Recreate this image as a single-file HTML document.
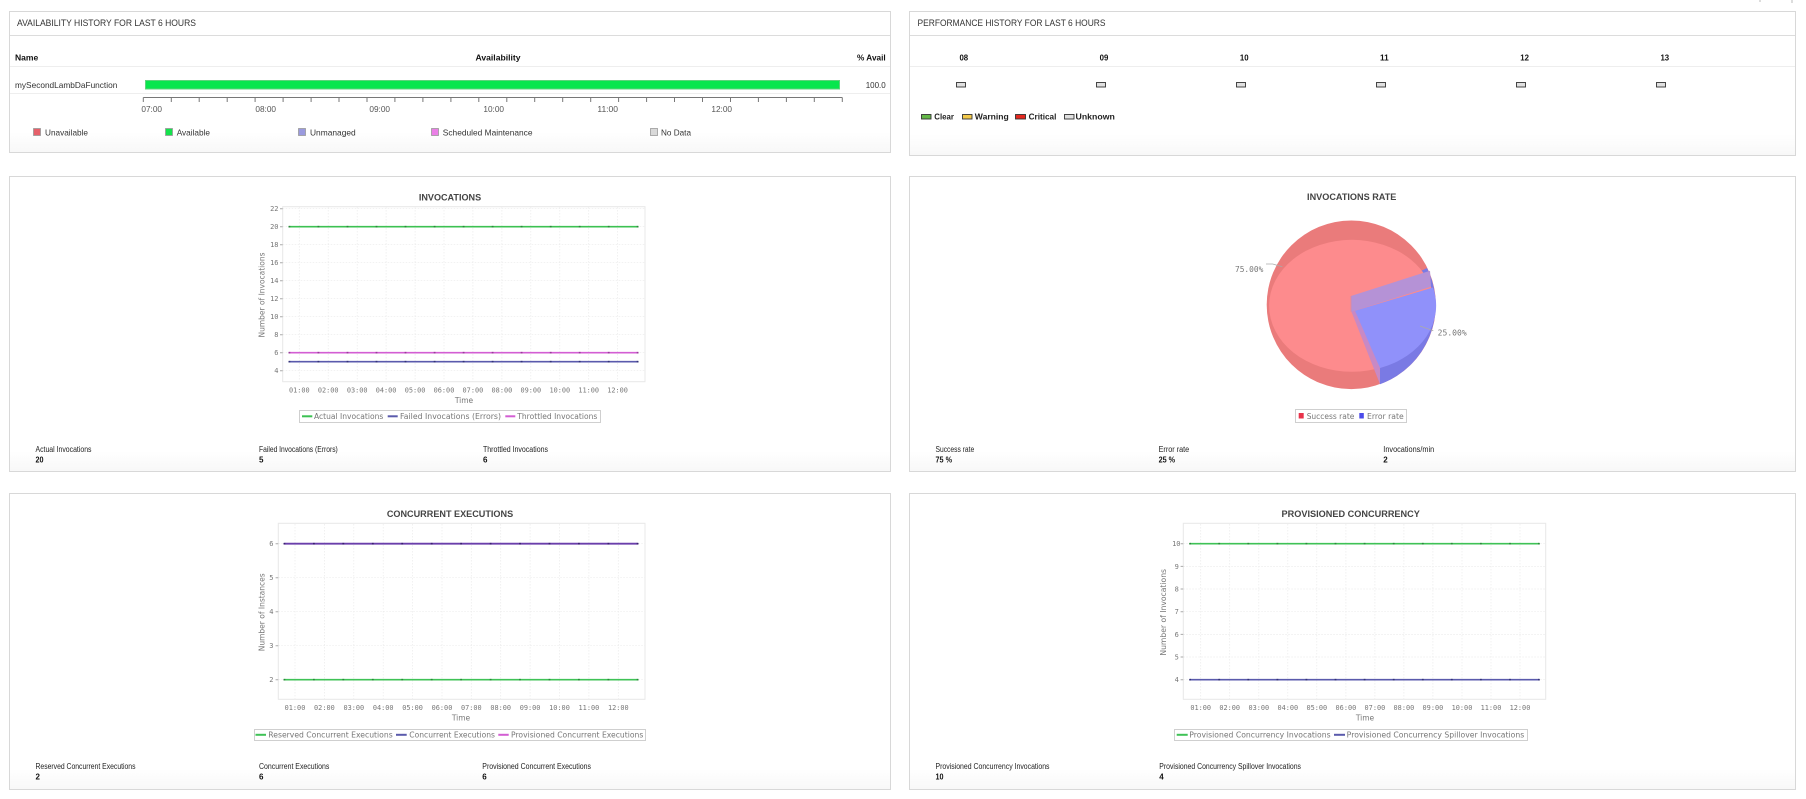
<!DOCTYPE html>
<html><head><meta charset="utf-8"><style>html,body{margin:0;padding:0;background:#fff;}svg{display:block;}</style></head>
<body>
<svg width="1806" height="799" viewBox="0 0 1806 799" xmlns="http://www.w3.org/2000/svg" font-family="'Liberation Sans', sans-serif">
<defs>
<linearGradient id="bg" x1="0" y1="0" x2="0" y2="1"><stop offset="0" stop-color="#fff"/><stop offset="1" stop-color="#f8f8f8"/></linearGradient>
</defs>
<rect width="1806" height="799" fill="#fff"/>
<path d="M1760 0v2M1792 0v3" stroke="#bbb"/>

<!-- Panels -->
<g fill="#fff" stroke="#d8d8d8" stroke-width="1">
<rect x="9.5" y="11.5" width="881" height="141"/>
<rect x="909.5" y="11.5" width="886" height="144"/>
<rect x="9.5" y="176.5" width="881" height="295"/>
<rect x="909.5" y="176.5" width="886" height="295"/>
<rect x="9.5" y="493.5" width="881" height="296"/>
<rect x="909.5" y="493.5" width="886" height="296"/>
</g>
<g fill="url(#bg)">
<rect x="10" y="132" width="880" height="20"/>
<rect x="910" y="134" width="885" height="21"/>
<rect x="10" y="451" width="880" height="20"/>
<rect x="910" y="451" width="885" height="20"/>
<rect x="10" y="769" width="880" height="20"/>
<rect x="910" y="769" width="885" height="20"/>
</g>

<!-- ===== Panel 1: Availability ===== -->
<text x="17" y="26" font-size="9.5" fill="#333" textLength="179" lengthAdjust="spacingAndGlyphs">AVAILABILITY HISTORY FOR LAST 6 HOURS</text>
<path d="M10 35.5H890" stroke="#dcdcdc"/>
<g font-size="8.5" font-weight="bold" fill="#111">
<text x="15" y="60.3" textLength="23.3" lengthAdjust="spacingAndGlyphs">Name</text>
<text x="498" y="60.3" text-anchor="middle" textLength="45" lengthAdjust="spacingAndGlyphs">Availability</text>
<text x="885.7" y="60.3" text-anchor="end" textLength="28.7" lengthAdjust="spacingAndGlyphs">% Avail</text>
</g>
<path d="M10 66.5H890M10 93.5H890" stroke="#eeeeee"/>
<text x="15" y="88" font-size="8.5" fill="#333" textLength="102.3" lengthAdjust="spacingAndGlyphs">mySecondLambDaFunction</text>
<rect x="145.5" y="80.5" width="694" height="8.5" fill="#07e64d" stroke="#5fd27c"/>
<text x="885.7" y="88" font-size="8.5" fill="#333" text-anchor="end" textLength="20" lengthAdjust="spacingAndGlyphs">100.0</text>
<path d="M143.3 97.5H842.3" stroke="#777"/>
<path d="M143.3 97.5v4.5M171.3 97.5v4.5M199.2 97.5v4.5M227.2 97.5v4.5M255.1 97.5v4.5M283.1 97.5v4.5M311.1 97.5v4.5M339 97.5v4.5M367 97.5v4.5M394.9 97.5v4.5M422.9 97.5v4.5M450.9 97.5v4.5M478.8 97.5v4.5M506.8 97.5v4.5M534.7 97.5v4.5M562.7 97.5v4.5M590.7 97.5v4.5M618.6 97.5v4.5M646.6 97.5v4.5M674.5 97.5v4.5M702.5 97.5v4.5M730.5 97.5v4.5M758.4 97.5v4.5M786.4 97.5v4.5M814.3 97.5v4.5M842.3 97.5v4.5" stroke="#777"/>
<g font-size="8" fill="#555" text-anchor="middle">
<text x="151.7" y="112" textLength="20.7" lengthAdjust="spacingAndGlyphs">07:00</text>
<text x="265.7" y="112" textLength="20.7" lengthAdjust="spacingAndGlyphs">08:00</text>
<text x="379.7" y="112" textLength="20.7" lengthAdjust="spacingAndGlyphs">09:00</text>
<text x="493.7" y="112" textLength="20.7" lengthAdjust="spacingAndGlyphs">10:00</text>
<text x="607.7" y="112" textLength="20.7" lengthAdjust="spacingAndGlyphs">11:00</text>
<text x="721.7" y="112" textLength="20.7" lengthAdjust="spacingAndGlyphs">12:00</text>
</g>
<g stroke="#999" stroke-width="0.8">
<rect x="33.5" y="128.5" width="7" height="7" fill="#e6606a"/>
<rect x="165.5" y="128.5" width="7" height="7" fill="#14e24c"/>
<rect x="298.5" y="128.5" width="7" height="7" fill="#9a9ade"/>
<rect x="431.5" y="128.5" width="7" height="7" fill="#ea7fe6"/>
<rect x="650.5" y="128.5" width="7" height="7" fill="#d9d9d9"/>
</g>
<g font-size="8.5" fill="#333">
<text x="45" y="135.7" textLength="43" lengthAdjust="spacingAndGlyphs">Unavailable</text>
<text x="176.7" y="135.7" textLength="33.3" lengthAdjust="spacingAndGlyphs">Available</text>
<text x="310" y="135.7" textLength="45.7" lengthAdjust="spacingAndGlyphs">Unmanaged</text>
<text x="442.8" y="135.7" textLength="89.7" lengthAdjust="spacingAndGlyphs">Scheduled Maintenance</text>
<text x="661" y="135.7" textLength="30" lengthAdjust="spacingAndGlyphs">No Data</text>
</g>

<!-- ===== Panel 2: Performance ===== -->
<text x="917.5" y="26" font-size="9.5" fill="#333" textLength="188" lengthAdjust="spacingAndGlyphs">PERFORMANCE HISTORY FOR LAST 6 HOURS</text>
<path d="M910 35.5H1795" stroke="#dcdcdc"/>
<g font-size="8.5" font-weight="bold" fill="#111" text-anchor="middle">
<text x="963.8" y="60.3" textLength="8.7" lengthAdjust="spacingAndGlyphs">08</text>
<text x="1104" y="60.3" textLength="8.7" lengthAdjust="spacingAndGlyphs">09</text>
<text x="1244.2" y="60.3" textLength="8.7" lengthAdjust="spacingAndGlyphs">10</text>
<text x="1384.4" y="60.3" textLength="8.7" lengthAdjust="spacingAndGlyphs">11</text>
<text x="1524.6" y="60.3" textLength="8.7" lengthAdjust="spacingAndGlyphs">12</text>
<text x="1664.8" y="60.3" textLength="8.7" lengthAdjust="spacingAndGlyphs">13</text>
</g>
<path d="M910 66.5H1795" stroke="#eeeeee"/>
<g fill="#e0e0e0" stroke="#333" stroke-width="0.9">
<rect x="956.5" y="82.5" width="9" height="4.5"/>
<rect x="1096.5" y="82.5" width="9" height="4.5"/>
<rect x="1236.5" y="82.5" width="9" height="4.5"/>
<rect x="1376.5" y="82.5" width="9" height="4.5"/>
<rect x="1516.5" y="82.5" width="9" height="4.5"/>
<rect x="1656.5" y="82.5" width="9" height="4.5"/>
</g>
<g stroke="#333" stroke-width="0.9">
<rect x="921.5" y="114.5" width="9.5" height="4.5" fill="#63b847"/>
<rect x="962.5" y="114.5" width="9.5" height="4.5" fill="#f3c94a"/>
<rect x="1015.5" y="114.5" width="10" height="4.5" fill="#e5281f"/>
<rect x="1064.5" y="114.5" width="9.5" height="4.5" fill="#e0e0e0"/>
</g>
<g font-size="8.5" font-weight="bold" fill="#222">
<text x="934.3" y="119.5" textLength="19.7" lengthAdjust="spacingAndGlyphs">Clear</text>
<text x="974.8" y="119.5" textLength="34" lengthAdjust="spacingAndGlyphs">Warning</text>
<text x="1028.6" y="119.5" textLength="27.8" lengthAdjust="spacingAndGlyphs">Critical</text>
<text x="1075.5" y="119.5" textLength="39.4" lengthAdjust="spacingAndGlyphs">Unknown</text>
</g>

<!-- ===== Panel 3: Invocations chart ===== -->
<text x="450" y="200.3" font-size="9" font-weight="bold" fill="#444" text-anchor="middle" textLength="62.3" lengthAdjust="spacingAndGlyphs">INVOCATIONS</text>
<rect x="282.7" y="206.7" width="362.3" height="175" fill="#fff" stroke="#e8e8e8"/>
<g stroke="#ebebeb" stroke-width="0.7" stroke-dasharray="1.5,1.5">
<path d="M282.7 208.7H645M282.7 226.7H645M282.7 244.7H645M282.7 262.7H645M282.7 280.7H645M282.7 298.7H645M282.7 316.7H645M282.7 334.7H645M282.7 352.7H645M282.7 370.7H645"/>
<path d="M299.3 207V381.7M328.2 207V381.7M357.2 207V381.7M386.1 207V381.7M415.1 207V381.7M444 207V381.7M472.9 207V381.7M501.9 207V381.7M530.8 207V381.7M559.8 207V381.7M588.7 207V381.7M617.6 207V381.7"/>
</g>
<path d="M280 208.7h2.7M280 226.7h2.7M280 244.7h2.7M280 262.7h2.7M280 280.7h2.7M280 298.7h2.7M280 316.7h2.7M280 334.7h2.7M280 352.7h2.7M280 370.7h2.7" stroke="#aaa"/>
<g font-family="'DejaVu Sans Mono', monospace" font-size="7" fill="#777" text-anchor="end">
<text x="278.5" y="211.2">22</text><text x="278.5" y="229.2">20</text><text x="278.5" y="247.2">18</text><text x="278.5" y="265.2">16</text><text x="278.5" y="283.2">14</text><text x="278.5" y="301.2">12</text><text x="278.5" y="319.2">10</text><text x="278.5" y="337.2">8</text><text x="278.5" y="355.2">6</text><text x="278.5" y="373.2">4</text>
</g>
<path d="M289.3 226.7H637.7" stroke="#3cc152" stroke-width="1.6"/>
<path d="M289.3 352.7H637.7" stroke="#d35ed3" stroke-width="1.6"/>
<path d="M289.3 361.7H637.7" stroke="#5a5aac" stroke-width="1.6"/>
<g stroke-width="1.6" stroke-linecap="square">
<path stroke="#2a8a3a" d="M289.3 226.7h.2M318.3 226.7h.2M347.4 226.7h.2M376.4 226.7h.2M405.4 226.7h.2M434.5 226.7h.2M463.5 226.7h.2M492.5 226.7h.2M521.5 226.7h.2M550.6 226.7h.2M579.6 226.7h.2M608.6 226.7h.2M637.5 226.7h.2"/>
<path stroke="#9a3a9a" d="M289.3 352.7h.2M318.3 352.7h.2M347.4 352.7h.2M376.4 352.7h.2M405.4 352.7h.2M434.5 352.7h.2M463.5 352.7h.2M492.5 352.7h.2M521.5 352.7h.2M550.6 352.7h.2M579.6 352.7h.2M608.6 352.7h.2M637.5 352.7h.2"/>
<path stroke="#33337a" d="M289.3 361.7h.2M318.3 361.7h.2M347.4 361.7h.2M376.4 361.7h.2M405.4 361.7h.2M434.5 361.7h.2M463.5 361.7h.2M492.5 361.7h.2M521.5 361.7h.2M550.6 361.7h.2M579.6 361.7h.2M608.6 361.7h.2M637.5 361.7h.2"/>
</g>
<g font-family="'DejaVu Sans Mono', monospace" font-size="7" fill="#777" text-anchor="middle">
<text x="299.3" y="392.6" textLength="20.7" lengthAdjust="spacingAndGlyphs">01:00</text>
<text x="328.2" y="392.6" textLength="20.7" lengthAdjust="spacingAndGlyphs">02:00</text>
<text x="357.2" y="392.6" textLength="20.7" lengthAdjust="spacingAndGlyphs">03:00</text>
<text x="386.1" y="392.6" textLength="20.7" lengthAdjust="spacingAndGlyphs">04:00</text>
<text x="415.1" y="392.6" textLength="20.7" lengthAdjust="spacingAndGlyphs">05:00</text>
<text x="444" y="392.6" textLength="20.7" lengthAdjust="spacingAndGlyphs">06:00</text>
<text x="472.9" y="392.6" textLength="20.7" lengthAdjust="spacingAndGlyphs">07:00</text>
<text x="501.9" y="392.6" textLength="20.7" lengthAdjust="spacingAndGlyphs">08:00</text>
<text x="530.8" y="392.6" textLength="20.7" lengthAdjust="spacingAndGlyphs">09:00</text>
<text x="559.8" y="392.6" textLength="20.7" lengthAdjust="spacingAndGlyphs">10:00</text>
<text x="588.7" y="392.6" textLength="20.7" lengthAdjust="spacingAndGlyphs">11:00</text>
<text x="617.6" y="392.6" textLength="20.7" lengthAdjust="spacingAndGlyphs">12:00</text>
</g>
<g font-family="'DejaVu Sans', sans-serif" font-size="7.5" fill="#777">
<text x="464" y="402.8" text-anchor="middle">Time</text>
<text transform="translate(264.5,295) rotate(-90)" text-anchor="middle" textLength="85" lengthAdjust="spacingAndGlyphs">Number of Invocations</text>
</g>
<rect x="299.5" y="410.5" width="301" height="12" fill="#fff" stroke="#cfcfcf"/>
<path d="M302 416.3h10.3" stroke="#3cc152" stroke-width="2"/>
<path d="M387.7 416.3h10" stroke="#5a5aac" stroke-width="2"/>
<path d="M505.3 416.3h10" stroke="#d35ed3" stroke-width="2"/>
<g font-family="'DejaVu Sans', sans-serif" font-size="7.5" fill="#777">
<text x="314" y="419" textLength="69.3" lengthAdjust="spacingAndGlyphs">Actual Invocations</text>
<text x="400" y="419" textLength="101" lengthAdjust="spacingAndGlyphs">Failed Invocations (Errors)</text>
<text x="517.3" y="419" textLength="80" lengthAdjust="spacingAndGlyphs">Throttled Invocations</text>
</g>
<g font-size="8" fill="#222">
<text x="35.5" y="452.2" textLength="56" lengthAdjust="spacingAndGlyphs">Actual Invocations</text>
<text x="259" y="452.2" textLength="78.8" lengthAdjust="spacingAndGlyphs">Failed Invocations (Errors)</text>
<text x="483" y="452.2" textLength="65" lengthAdjust="spacingAndGlyphs">Throttled Invocations</text>
</g>
<g font-size="8" font-weight="bold" fill="#111">
<text x="35.5" y="462.3" textLength="8" lengthAdjust="spacingAndGlyphs">20</text>
<text x="259" y="462.3">5</text>
<text x="483" y="462.3">6</text>
</g>

<!-- ===== Panel 4: Invocations rate (pie) ===== -->
<text x="1351.7" y="200" font-size="9" font-weight="bold" fill="#444" text-anchor="middle" textLength="89.3" lengthAdjust="spacingAndGlyphs">INVOCATIONS RATE</text>
<ellipse cx="1351.3" cy="304.8" rx="84.6" ry="84.3" fill="#ea7b7b"/>
<path d="M1351.3 304.8 L1427 268 A84.6 84.3 0 0 1 1380 384.2 Z" fill="#7a7ae4"/>
<ellipse cx="1351.8" cy="305.8" rx="82.7" ry="66" fill="#fd8b8d"/>
<path d="M1351.5 311.7 L1433 287.5 A82.7 66 0 0 1 1380 368 Z" fill="#9091fa"/>
<path d="M1351.5 311.7 L1355 310.8 L1380 368.2 L1380 384.2 Z" fill="#c889c4"/>
<path d="M1351 296 L1430 270.7 L1431 286.7 L1351.5 311.7 Z" fill="#b592d6"/>
<path d="M1351 296 V311.7" stroke="#d48aa8" stroke-width="0.8"/>
<path d="M1266 264h6.7l9.6 2.7" fill="none" stroke="#aaa" stroke-width="0.8"/>
<path d="M1420 326l13.3 4.7" fill="none" stroke="#aaa" stroke-width="0.8"/>
<g font-family="'DejaVu Sans Mono', monospace" font-size="7.5" fill="#777">
<text x="1235" y="272" textLength="28.3" lengthAdjust="spacingAndGlyphs">75.00%</text>
<text x="1437.7" y="335.5" textLength="29" lengthAdjust="spacingAndGlyphs">25.00%</text>
</g>
<rect x="1295.5" y="409.5" width="111" height="13" fill="#fff" stroke="#cfcfcf"/>
<rect x="1298.7" y="413" width="5" height="5.5" fill="#e8334a"/>
<rect x="1359.3" y="413" width="4.5" height="5.5" fill="#4b4bea"/>
<g font-family="'DejaVu Sans', sans-serif" font-size="7.5" fill="#777">
<text x="1306.7" y="419" textLength="47.7" lengthAdjust="spacingAndGlyphs">Success rate</text>
<text x="1367" y="419" textLength="36.7" lengthAdjust="spacingAndGlyphs">Error rate</text>
</g>
<g font-size="8" fill="#222">
<text x="935.5" y="452.2" textLength="38.7" lengthAdjust="spacingAndGlyphs">Success rate</text>
<text x="1158.6" y="452.2" textLength="30.6" lengthAdjust="spacingAndGlyphs">Error rate</text>
<text x="1383.3" y="452.2" textLength="50.9" lengthAdjust="spacingAndGlyphs">Invocations/min</text>
</g>
<g font-size="8" font-weight="bold" fill="#111">
<text x="935.5" y="462.3" textLength="16.5" lengthAdjust="spacingAndGlyphs">75 %</text>
<text x="1158.6" y="462.3" textLength="16.5" lengthAdjust="spacingAndGlyphs">25 %</text>
<text x="1383.3" y="462.3">2</text>
</g>

<!-- ===== Panel 5: Concurrent executions ===== -->
<text x="450" y="517.2" font-size="9" font-weight="bold" fill="#444" text-anchor="middle" textLength="126.3" lengthAdjust="spacingAndGlyphs">CONCURRENT EXECUTIONS</text>
<rect x="278.3" y="523.3" width="366.7" height="176" fill="#fff" stroke="#e8e8e8"/>
<g stroke="#ebebeb" stroke-width="0.7" stroke-dasharray="1.5,1.5">
<path d="M278.3 543.7H645M278.3 577.7H645M278.3 611.7H645M278.3 645.7H645M278.3 679.7H645"/>
<path d="M295 524V699.3M324.4 524V699.3M353.8 524V699.3M383.2 524V699.3M412.6 524V699.3M442 524V699.3M471.3 524V699.3M500.7 524V699.3M530.1 524V699.3M559.5 524V699.3M588.9 524V699.3M618.3 524V699.3"/>
</g>
<path d="M275.6 543.7h2.7M275.6 577.7h2.7M275.6 611.7h2.7M275.6 645.7h2.7M275.6 679.7h2.7" stroke="#aaa"/>
<g font-family="'DejaVu Sans Mono', monospace" font-size="7" fill="#777" text-anchor="end">
<text x="273.5" y="546.2">6</text><text x="273.5" y="580.2">5</text><text x="273.5" y="614.2">4</text><text x="273.5" y="648.2">3</text><text x="273.5" y="682.2">2</text>
</g>
<path d="M284.3 679.7H637.7" stroke="#3fc256" stroke-width="1.6"/>
<path d="M284.3 543.7H637.7" stroke="#6a3fab" stroke-width="1.8"/>
<g stroke-width="1.6" stroke-linecap="square">
<path stroke="#2a8a3a" d="M284.3 679.7h.2M313.8 679.7h.2M343.2 679.7h.2M372.7 679.7h.2M402.1 679.7h.2M431.6 679.7h.2M461 679.7h.2M490.5 679.7h.2M519.9 679.7h.2M549.4 679.7h.2M578.8 679.7h.2M608.3 679.7h.2M637.5 679.7h.2"/>
<path stroke="#3a2070" d="M284.3 543.7h.2M313.8 543.7h.2M343.2 543.7h.2M372.7 543.7h.2M402.1 543.7h.2M431.6 543.7h.2M461 543.7h.2M490.5 543.7h.2M519.9 543.7h.2M549.4 543.7h.2M578.8 543.7h.2M608.3 543.7h.2M637.5 543.7h.2"/>
</g>
<g font-family="'DejaVu Sans Mono', monospace" font-size="7" fill="#777" text-anchor="middle">
<text x="295" y="709.8" textLength="20.7" lengthAdjust="spacingAndGlyphs">01:00</text>
<text x="324.4" y="709.8" textLength="20.7" lengthAdjust="spacingAndGlyphs">02:00</text>
<text x="353.8" y="709.8" textLength="20.7" lengthAdjust="spacingAndGlyphs">03:00</text>
<text x="383.2" y="709.8" textLength="20.7" lengthAdjust="spacingAndGlyphs">04:00</text>
<text x="412.6" y="709.8" textLength="20.7" lengthAdjust="spacingAndGlyphs">05:00</text>
<text x="442" y="709.8" textLength="20.7" lengthAdjust="spacingAndGlyphs">06:00</text>
<text x="471.3" y="709.8" textLength="20.7" lengthAdjust="spacingAndGlyphs">07:00</text>
<text x="500.7" y="709.8" textLength="20.7" lengthAdjust="spacingAndGlyphs">08:00</text>
<text x="530.1" y="709.8" textLength="20.7" lengthAdjust="spacingAndGlyphs">09:00</text>
<text x="559.5" y="709.8" textLength="20.7" lengthAdjust="spacingAndGlyphs">10:00</text>
<text x="588.9" y="709.8" textLength="20.7" lengthAdjust="spacingAndGlyphs">11:00</text>
<text x="618.3" y="709.8" textLength="20.7" lengthAdjust="spacingAndGlyphs">12:00</text>
</g>
<g font-family="'DejaVu Sans', sans-serif" font-size="7.5" fill="#777">
<text x="461" y="720.5" text-anchor="middle">Time</text>
<text transform="translate(264.5,612.3) rotate(-90)" text-anchor="middle" textLength="78" lengthAdjust="spacingAndGlyphs">Number of Instances</text>
</g>
<rect x="254.5" y="729.5" width="391" height="11" fill="#fff" stroke="#cfcfcf"/>
<path d="M255.5 734.8h10.5" stroke="#3fc256" stroke-width="2"/>
<path d="M396 734.8h10.7" stroke="#5a5aac" stroke-width="2"/>
<path d="M498.3 734.8h10.4" stroke="#d35ed3" stroke-width="2"/>
<g font-family="'DejaVu Sans', sans-serif" font-size="7.5" fill="#777">
<text x="268.3" y="737.5" textLength="124.4" lengthAdjust="spacingAndGlyphs">Reserved Concurrent Executions</text>
<text x="409.3" y="737.5" textLength="85.7" lengthAdjust="spacingAndGlyphs">Concurrent Executions</text>
<text x="511" y="737.5" textLength="132.3" lengthAdjust="spacingAndGlyphs">Provisioned Concurrent Executions</text>
</g>
<g font-size="8" fill="#222">
<text x="35.5" y="769" textLength="100" lengthAdjust="spacingAndGlyphs">Reserved Concurrent Executions</text>
<text x="259" y="769" textLength="70.3" lengthAdjust="spacingAndGlyphs">Concurrent Executions</text>
<text x="482.3" y="769" textLength="108.7" lengthAdjust="spacingAndGlyphs">Provisioned Concurrent Executions</text>
</g>
<g font-size="8" font-weight="bold" fill="#111">
<text x="35.5" y="779.3">2</text>
<text x="259" y="779.3">6</text>
<text x="482.3" y="779.3">6</text>
</g>

<!-- ===== Panel 6: Provisioned concurrency ===== -->
<text x="1350.7" y="517.2" font-size="9" font-weight="bold" fill="#444" text-anchor="middle" textLength="138.3" lengthAdjust="spacingAndGlyphs">PROVISIONED CONCURRENCY</text>
<rect x="1183.3" y="523.3" width="362.4" height="176" fill="#fff" stroke="#e8e8e8"/>
<g stroke="#ebebeb" stroke-width="0.7" stroke-dasharray="1.5,1.5">
<path d="M1183.3 543.7H1545.7M1183.3 566.4H1545.7M1183.3 589H1545.7M1183.3 611.7H1545.7M1183.3 634.4H1545.7M1183.3 657H1545.7M1183.3 679.7H1545.7"/>
<path d="M1200.7 524V699.3M1229.7 524V699.3M1258.8 524V699.3M1287.8 524V699.3M1316.8 524V699.3M1345.9 524V699.3M1374.9 524V699.3M1403.9 524V699.3M1432.9 524V699.3M1462 524V699.3M1491 524V699.3M1520 524V699.3"/>
</g>
<path d="M1180.6 543.7h2.7M1180.6 566.4h2.7M1180.6 589h2.7M1180.6 611.7h2.7M1180.6 634.4h2.7M1180.6 657h2.7M1180.6 679.7h2.7" stroke="#aaa"/>
<g font-family="'DejaVu Sans Mono', monospace" font-size="7" fill="#777" text-anchor="end">
<text x="1180.5" y="546.2">10</text><text x="1178.8" y="568.9">9</text><text x="1178.8" y="591.5">8</text><text x="1178.8" y="614.2">7</text><text x="1178.8" y="636.9">6</text><text x="1178.8" y="659.5">5</text><text x="1178.8" y="682.2">4</text>
</g>
<path d="M1190 543.7H1539" stroke="#3fc256" stroke-width="1.6"/>
<path d="M1190 679.7H1539" stroke="#5a5aac" stroke-width="1.6"/>
<g stroke-width="1.6" stroke-linecap="square">
<path stroke="#2a8a3a" d="M1190 543.7h.2M1219.1 543.7h.2M1248.2 543.7h.2M1277.3 543.7h.2M1306.3 543.7h.2M1335.4 543.7h.2M1364.5 543.7h.2M1393.6 543.7h.2M1422.7 543.7h.2M1451.7 543.7h.2M1480.8 543.7h.2M1509.9 543.7h.2M1538.8 543.7h.2"/>
<path stroke="#33337a" d="M1190 679.7h.2M1219.1 679.7h.2M1248.2 679.7h.2M1277.3 679.7h.2M1306.3 679.7h.2M1335.4 679.7h.2M1364.5 679.7h.2M1393.6 679.7h.2M1422.7 679.7h.2M1451.7 679.7h.2M1480.8 679.7h.2M1509.9 679.7h.2M1538.8 679.7h.2"/>
</g>
<g font-family="'DejaVu Sans Mono', monospace" font-size="7" fill="#777" text-anchor="middle">
<text x="1200.7" y="709.8" textLength="20.7" lengthAdjust="spacingAndGlyphs">01:00</text>
<text x="1229.7" y="709.8" textLength="20.7" lengthAdjust="spacingAndGlyphs">02:00</text>
<text x="1258.8" y="709.8" textLength="20.7" lengthAdjust="spacingAndGlyphs">03:00</text>
<text x="1287.8" y="709.8" textLength="20.7" lengthAdjust="spacingAndGlyphs">04:00</text>
<text x="1316.8" y="709.8" textLength="20.7" lengthAdjust="spacingAndGlyphs">05:00</text>
<text x="1345.9" y="709.8" textLength="20.7" lengthAdjust="spacingAndGlyphs">06:00</text>
<text x="1374.9" y="709.8" textLength="20.7" lengthAdjust="spacingAndGlyphs">07:00</text>
<text x="1403.9" y="709.8" textLength="20.7" lengthAdjust="spacingAndGlyphs">08:00</text>
<text x="1432.9" y="709.8" textLength="20.7" lengthAdjust="spacingAndGlyphs">09:00</text>
<text x="1462" y="709.8" textLength="20.7" lengthAdjust="spacingAndGlyphs">10:00</text>
<text x="1491" y="709.8" textLength="20.7" lengthAdjust="spacingAndGlyphs">11:00</text>
<text x="1520" y="709.8" textLength="20.7" lengthAdjust="spacingAndGlyphs">12:00</text>
</g>
<g font-family="'DejaVu Sans', sans-serif" font-size="7.5" fill="#777">
<text x="1365" y="720.5" text-anchor="middle">Time</text>
<text transform="translate(1165.8,612.3) rotate(-90)" text-anchor="middle" textLength="86.7" lengthAdjust="spacingAndGlyphs">Number of Invocations</text>
</g>
<rect x="1174.5" y="729.5" width="353" height="11" fill="#fff" stroke="#cfcfcf"/>
<path d="M1176.7 734.8h11" stroke="#3fc256" stroke-width="2"/>
<path d="M1334 734.8h11" stroke="#5a5aac" stroke-width="2"/>
<g font-family="'DejaVu Sans', sans-serif" font-size="7.5" fill="#777">
<text x="1189.3" y="737.5" textLength="141.3" lengthAdjust="spacingAndGlyphs">Provisioned Concurrency Invocations</text>
<text x="1346.7" y="737.5" textLength="177.6" lengthAdjust="spacingAndGlyphs">Provisioned Concurrency Spillover Invocations</text>
</g>
<g font-size="8" fill="#222">
<text x="935.5" y="769" textLength="114" lengthAdjust="spacingAndGlyphs">Provisioned Concurrency Invocations</text>
<text x="1159.3" y="769" textLength="141.7" lengthAdjust="spacingAndGlyphs">Provisioned Concurrency Spillover Invocations</text>
</g>
<g font-size="8" font-weight="bold" fill="#111">
<text x="935.5" y="779.3" textLength="8" lengthAdjust="spacingAndGlyphs">10</text>
<text x="1159.3" y="779.3">4</text>
</g>
</svg>
</body></html>
